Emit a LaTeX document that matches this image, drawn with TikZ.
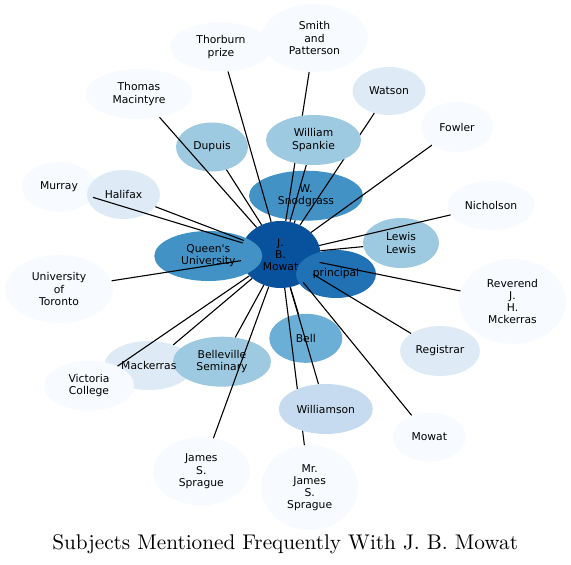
\documentclass[tikz,border=0pt]{standalone}
\usepackage{fontspec}
\newfontfamily\nodefont{DejaVu Sans}[Ligatures=TeXOff]
\newfontfamily\titlefont{lmroman10-regular}[Extension=.otf]
\usetikzlibrary{shapes.geometric}
\pgfdeclarelayer{back}
\pgfdeclarelayer{front}
\pgfsetlayers{back,main,front}
\definecolor{bA}{HTML}{08519C}
\definecolor{bB}{HTML}{2171B5}
\definecolor{bC}{HTML}{4292C6}
\definecolor{bD}{HTML}{6BAED6}
\definecolor{bE}{HTML}{9ECAE1}
\definecolor{bF}{HTML}{C6DBEF}
\definecolor{bG}{HTML}{DEEBF7}
\definecolor{bH}{HTML}{F7FBFF}
\begin{document}
\begin{tikzpicture}[x=1bp,y=-1bp,
  nd/.style={ellipse, inner sep=0pt, align=center, text=black,
    font=\nodefont\fontsize{10.8}{12.2}\selectfont},
  sz/.style 2 args={minimum width=#1bp, minimum height=#2bp},
  edge/.style={line width=1.1bp, black}]
\useasboundingbox (0,0) rectangle (571,565);
% Mackerras ellipse lies under its neighbours, its text above them
\begin{pgfonlayer}{back}
\fill[bG] (148.8,365.5) ellipse [x radius=44.5, y radius=24.5];
\end{pgfonlayer}
% nodes on main layer
\node[nd, sz={80}{67}, fill=bA] (mowat) at (280.5,254.5) {J.\\B.\\Mowat};
\node[nd, sz={102}{49}, fill=bH] (thorburn) at (221,47) {Thorburn\\prize};
\node[nd, sz={106}{68}, fill=bH] (smith) at (314.5,38) {Smith\\and\\Patterson};
\node[nd, sz={107}{50}, fill=bH] (thomas) at (139,94) {Thomas\\Macintyre};
\node[nd, sz={73}{48}, fill=bG] (watson) at (389,91) {Watson};
\node[nd, sz={72}{50}, fill=bH] (fowler) at (457,127) {Fowler};
\node[nd, sz={72}{49}, fill=bE] (dupuis) at (212,147) {Dupuis};
\node[nd, sz={74}{50}, fill=bH] (murray) at (59,187) {Murray};
\node[nd, sz={73}{49}, fill=bG] (halifax) at (123.5,194.5) {Halifax};
\node[nd, sz={114}{50}, fill=bC] (snod) at (306,195.7) {W.\\Snodgrass};
\node[nd, sz={87}{49}, fill=bH] (nich) at (491,205.5) {Nicholson};
\node[nd, sz={108}{50}, fill=bC] (queens) at (208.3,256) {Queen's\\University};
\node[nd, sz={76}{50}, fill=bE] (lewis) at (401,243) {Lewis\\Lewis};
\node[nd, sz={80}{48}, fill=bB] (principal) at (336,274) {principal};
\node[nd, sz={108}{68}, fill=bH] (toronto) at (59,289) {University\\of\\Toronto};
\node[nd, sz={107}{85}, fill=bH] (reverend) at (512.5,301.5) {Reverend\\J.\\H.\\Mckerras};
\node[nd, sz={73}{49}, fill=bD] (bell) at (305.8,338.3) {Bell};
\node[nd, sz={80}{50}, fill=bG] (registrar) at (440,351) {Registrar};
\node[nd, sz={98}{50}, fill=bE] (belleville) at (222,361.7) {Belleville\\Seminary};
\node[nd, sz={90}{50}, fill=bH] (victoria) at (89,385.7) {Victoria\\College};
\node[nd, sz={89}{49}] (mackerras) at (148.8,365.5) {Mackerras};
\node[nd, sz={73}{49}, fill=bH] (mowatb) at (429.3,437) {Mowat};
\node[nd, sz={97}{68}, fill=bH] (james) at (201.3,471.3) {James\\S.\\Sprague};
\node[nd, sz={97}{85}, fill=bH] (mrjames) at (309.7,487.5) {Mr.\\James\\S.\\Sprague};
% nodes drawn over the connectors
\begin{pgfonlayer}{front}
\node[nd, sz={95}{50}, fill=bE] (spankie) at (313.5,140) {William\\Spankie};
\node[nd, sz={94}{50}, fill=bF] (williamson) at (325.8,409) {Williamson};
\end{pgfonlayer}
% connectors
\foreach \n in {thorburn,smith,thomas,watson,fowler,dupuis,spankie,murray,halifax,
  snod,nich,lewis,toronto,reverend,bell,registrar,mackerras,belleville,victoria,
  williamson,mowatb,james,mrjames}
  \draw[edge] (mowat) -- (\n);
% title
\node[font=\titlefont\fontsize{21.3}{25}\selectfont, anchor=base, inner sep=0pt] (title)
  at (285.2,549.3) {Subjects Mentioned Frequently With J. B. Mowat};
\end{tikzpicture}
\end{document}
